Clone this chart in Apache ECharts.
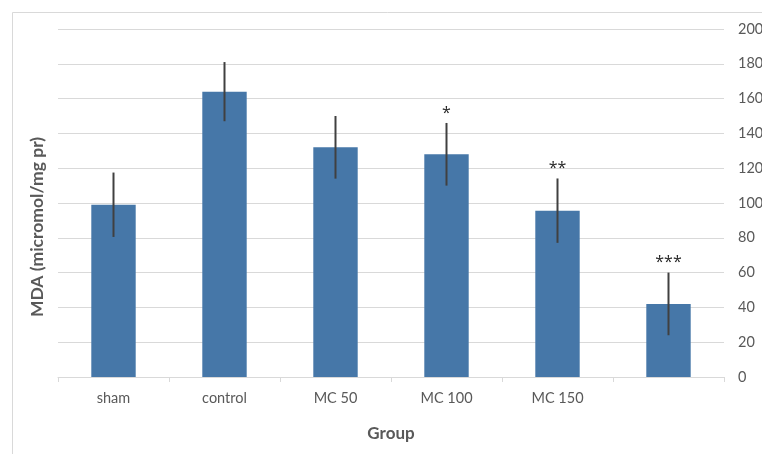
<!DOCTYPE html>
<html>
<head>
<meta charset="utf-8">
<script src="https://cdn.jsdelivr.net/npm/echarts@6/dist/echarts.min.js"></script>
<style>html,body{margin:0;padding:0;background:#fff;}#c{width:762px;height:454px;}</style>
</head>
<body>
<div id="c"></div>
<script>
const categories = ['sham', 'control', 'MC 50', 'MC 100', 'MC 150', ''];
const meanValues = [99, 164, 132, 128, 95.6, 42];
const errorValues = [18.5, 17, 18, 18, 18.5, 18];
const significance = ['', '', '', '*', '**', '***'];
const yTicks = [0, 20, 40, 60, 80, 100, 120, 140, 160, 180, 200];

const font = 'Lato, "Open Sans", sans-serif';
const chart = echarts.init(document.getElementById('c'));
const errData = meanValues.map((v, i) => [i, v - errorValues[i], v + errorValues[i]]);

chart.setOption({
  animation: false,
  backgroundColor: '#fff',
  graphic: [{
    type: 'rect', left: 10, top: 10, z: -10, silent: true,
    shape: { width: 800, height: 500 },
    style: { fill: 'none', stroke: '#d9d9d9', lineWidth: 1 }
  }, {
    type: 'text', silent: true,
    x: 37, y: 227, rotation: Math.PI / 2,
    style: {
      text: 'MDA (micromol/mg pr)', align: 'center', verticalAlign: 'middle',
      font: 'bold 17.5px ' + font, fill: '#595959'
    }
  }],
  grid: { left: 58, right: 38, top: 29, bottom: 77, containLabel: false, outerBoundsMode: 'none' },
  xAxis: {
    type: 'category',
    data: categories,
    name: 'Group',
    nameLocation: 'middle',
    nameGap: 48,
    nameTextStyle: { fontFamily: font, fontSize: 17, fontWeight: 'bold', color: '#595959' },
    axisLine: { lineStyle: { color: '#d9d9d9', width: 1 } },
    axisTick: { show: true, alignWithLabel: false, length: 5, lineStyle: { color: '#d9d9d9' } },
    axisLabel: { fontFamily: font, fontSize: 14.5, color: '#595959', margin: 14 }
  },
  yAxis: {
    type: 'value',
    position: 'right',
    min: yTicks[0],
    max: yTicks[yTicks.length - 1],
    interval: 20,
    axisLine: { show: false },
    axisTick: { show: false },
    axisLabel: { fontFamily: font, fontSize: 14.5, color: '#595959', margin: 14 },
    splitLine: { lineStyle: { color: '#d9d9d9', width: 1 } }
  },
  series: [{
    type: 'bar',
    data: meanValues,
    barWidth: '40%',
    itemStyle: { color: '#4677a8' },
    z: 2
  }, {
    type: 'custom',
    data: errData,
    z: 5,
    renderItem: function (params, api) {
      const i = api.value(0);
      const lo = api.coord([i, api.value(1)]);
      const hi = api.coord([i, api.value(2)]);
      const sig = significance[params.dataIndex];
      const children = [{
        type: 'line',
        shape: { x1: lo[0], y1: lo[1], x2: hi[0], y2: hi[1] },
        style: { stroke: '#404040', lineWidth: 2 }
      }];
      if (sig) {
        children.push({
          type: 'text',
          style: {
            text: sig, x: hi[0], y: hi[1] - 2,
            align: 'center', verticalAlign: 'bottom',
            font: '16px "Open Sans", sans-serif', fill: '#262626'
          }
        });
      }
      return { type: 'group', children: children };
    }
  }]
});
</script>
</body>
</html>
